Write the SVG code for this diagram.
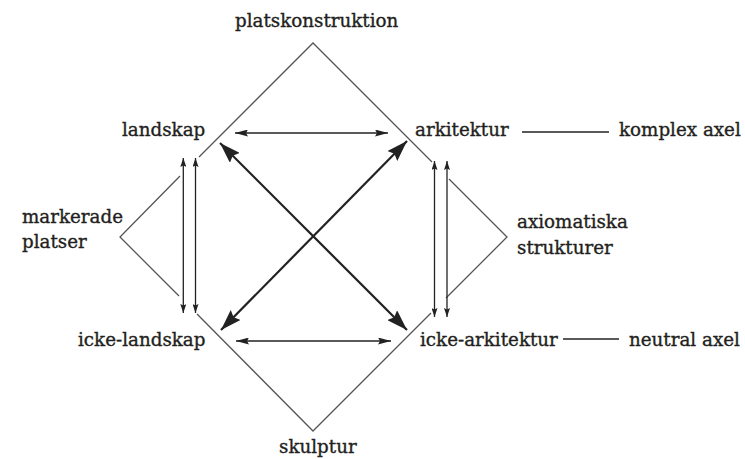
<svg xmlns="http://www.w3.org/2000/svg" width="745" height="459" viewBox="0 0 745 459">
  <style>
    .lbl { font-family: "DejaVu Serif", "Liberation Serif", serif; font-size: 18.3px; fill: #231f20; stroke: #231f20; stroke-width: 0.35; }
    .frame { stroke: #555; stroke-width: 1.3; fill: none; stroke-linecap: butt; }
    .thin { stroke: #222; stroke-width: 1.3; fill: none; }
    .bold { stroke: #222; stroke-width: 2.2; fill: none; }
    .rule { stroke: #222; stroke-width: 1.3; fill: none; }
  </style>
  <defs>
    <marker id="hv" markerUnits="userSpaceOnUse" viewBox="0 -3 9 6" markerWidth="9" markerHeight="6" refX="9" refY="0" orient="auto-start-reverse">
      <path d="M0,-3 L9,0 L0,3 L1.5,0 z" fill="#222"/>
    </marker>
    <marker id="hh" markerUnits="userSpaceOnUse" viewBox="0 -3.5 13 7" markerWidth="13" markerHeight="7" refX="13" refY="0" orient="auto-start-reverse">
      <path d="M0,-3.5 L13,0 L0,3.5 L2,0 z" fill="#222"/>
    </marker>
    <marker id="hd" markerUnits="userSpaceOnUse" viewBox="0 -7 21 14" markerWidth="21" markerHeight="14" refX="21" refY="0" orient="auto-start-reverse">
      <path d="M0,-7 L21,0 L0,7 L3,0 z" fill="#222"/>
    </marker>
  </defs>

  <g id="frame">
    <polyline class="frame" points="199,157 313,43 432,162"/>
    <polyline class="frame" points="180,176 120,237 179,296"/>
    <polyline class="frame" points="197,314 313,431 431,313"/>
    <polyline class="frame" points="446,298 507,237 449,179"/>
  </g>

  <g id="connectors">
    <line class="thin" x1="235" y1="133" x2="388" y2="133" marker-start="url(#hh)" marker-end="url(#hh)"/>
    <line class="thin" x1="236" y1="341" x2="391" y2="341" marker-start="url(#hh)" marker-end="url(#hh)"/>
    <line class="thin" x1="183.3" y1="158" x2="183.3" y2="313" marker-start="url(#hv)" marker-end="url(#hv)"/>
    <line class="thin" x1="195.5" y1="158" x2="195.5" y2="313" marker-start="url(#hv)" marker-end="url(#hv)"/>
    <line class="thin" x1="434.5" y1="161" x2="434.5" y2="317" marker-start="url(#hv)" marker-end="url(#hv)"/>
    <line class="thin" x1="447" y1="161" x2="447" y2="317" marker-start="url(#hv)" marker-end="url(#hv)"/>
    <line class="bold" x1="220" y1="143" x2="407" y2="330" marker-start="url(#hd)" marker-end="url(#hd)"/>
    <line class="bold" x1="407" y1="141" x2="221" y2="330" marker-start="url(#hd)" marker-end="url(#hd)"/>
    <line class="rule" x1="522" y1="132" x2="609" y2="132"/>
    <line class="rule" x1="563" y1="339" x2="619" y2="339"/>
  </g>

  <g id="platskonstruktion"><text class="lbl" x="235" y="27">platskonstruktion</text></g>
  <g id="landskap"><text class="lbl" x="122" y="136">landskap</text></g>
  <g id="arkitektur"><text class="lbl" x="415" y="136">arkitektur</text></g>
  <g id="komplex-axel"><text class="lbl" x="619" y="136">komplex axel</text></g>
  <g id="markerade-platser">
    <text class="lbl" x="22" y="223">markerade</text>
    <text class="lbl" x="22" y="248">platser</text>
  </g>
  <g id="axiomatiska-strukturer">
    <text class="lbl" x="517" y="228">axiomatiska</text>
    <text class="lbl" x="517" y="254">strukturer</text>
  </g>
  <g id="icke-landskap"><text class="lbl" x="78" y="346">icke-landskap</text></g>
  <g id="icke-arkitektur"><text class="lbl" x="420" y="346">icke-arkitektur</text></g>
  <g id="neutral-axel"><text class="lbl" x="629" y="346">neutral axel</text></g>
  <g id="skulptur"><text class="lbl" x="279" y="453">skulptur</text></g>
</svg>
